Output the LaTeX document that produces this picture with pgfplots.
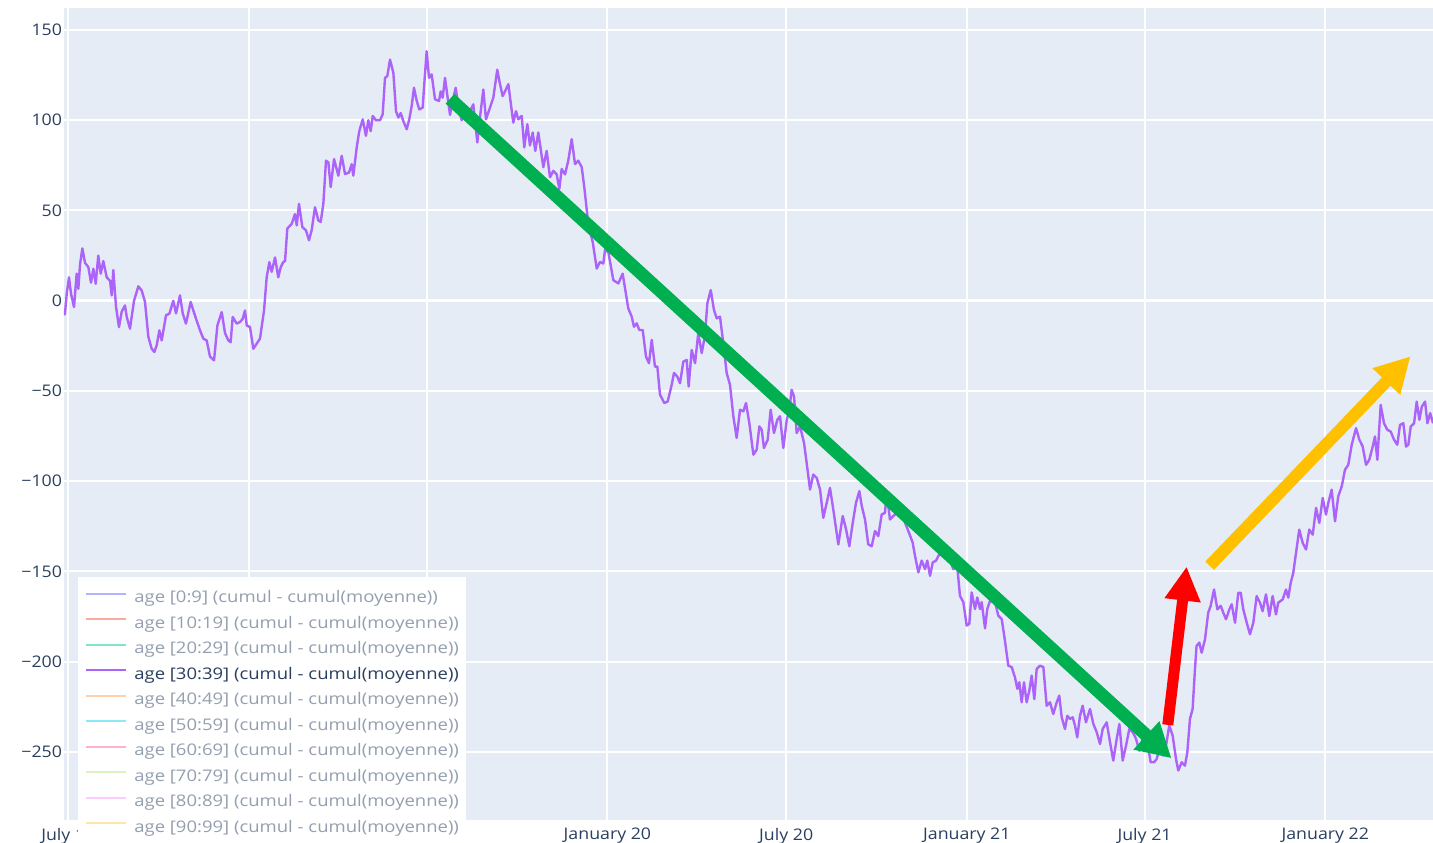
\documentclass[border=0pt]{standalone}
\usepackage{fontspec}
\setmainfont{Open Sans}[FakeStretch=1.11]
\newfontfamily\legfont{Open Sans}[FakeStretch=1.155]
\usepackage{pgfplots}
\pgfplotsset{compat=1.18}
\usetikzlibrary{arrows.meta,calc}
\definecolor{bgc}{HTML}{E5ECF6}
\definecolor{fontc}{HTML}{2A3F5F}
\definecolor{mainc}{HTML}{AB63FA}
\definecolor{greyc}{RGB}{148,159,175}
\definecolor{c0}{RGB}{177,182,252}
\definecolor{c1}{RGB}{247,170,157}
\definecolor{c2}{RGB}{128,229,202}
\definecolor{c4}{RGB}{255,208,172}
\definecolor{c5}{RGB}{140,233,249}
\definecolor{c6}{RGB}{255,178,200}
\definecolor{c7}{RGB}{218,243,191}
\definecolor{c8}{RGB}{255,203,255}
\definecolor{c9}{RGB}{254,229,168}
\definecolor{agreen}{HTML}{00B050}
\definecolor{agold}{HTML}{FFC000}
\definecolor{ared}{HTML}{FF0000}

\pgfplotstableread{
x y
-188.4 -8
-187.4 -7
-185.6 4
-183.3 13
-181.3 4
-178.2 -3.5
-175.5 15
-173.8 6.6
-172.1 20
-169.7 29
-167.0 21
-163.6 18.6
-160.9 10
-158.5 17.7
-156.1 9.4
-153.5 25
-151.0 15
-148.4 22
-144.9 13
-141.5 11
-139.8 3
-138.2 17
-135.4 -3.5
-132.4 -14.6
-129.6 -6
-126.3 -2.6
-124.5 -9
-121.2 -15.5
-117.1 0
-112.7 8
-109.3 5.7
-105.9 -0.7
-102.5 -20
-99.1 -26.6
-96.4 -28.4
-94.0 -24.7
-91.3 -16.4
-88.9 -22
-84.5 -8
-81.1 -7.2
-77.1 0
-74.3 -7
-70.3 3
-67.5 -7
-64.2 -12.7
-59.4 -0.7
-56.7 -5.4
-53.3 -11
-49.9 -16.4
-46.5 -21
-43.1 -22
-39.7 -31
-35.6 -33
-32.2 -13.7
-27.8 -6.3
-24.4 -18
-21.0 -22
-18.7 -23
-16.6 -9
-12.5 -12.7
-9.2 -11.8
-6.4 -10
-4.1 -5.4
-2.3 -13.7
1.0 -14.6
4.4 -26.6
7.8 -23.8
11.2 -21
15.3 -5.4
18.0 13
20.7 21.4
23.1 16
26.5 24
29.8 13
32.3 18.6
34.9 21.4
36.7 22
39.0 40
43.5 42.6
46.8 48
48.6 41.7
50.9 53.7
54.3 40.8
58.0 39
61.1 33.5
63.8 39
67.2 51.8
70.6 44.5
73.0 43.6
75.7 53.7
78.4 77.6
80.8 76.7
83.2 63
86.6 78.5
91.0 69.3
94.4 80.3
97.8 70.2
101.8 71
104.6 75.7
106.2 69.3
109.7 85
112.3 94
115.8 100.5
119.1 91.4
121.5 100
123.9 94
126.0 102.4
129.3 100
133.4 100
136.1 103.3
138.5 123.5
140.8 124.4
143.6 133.6
147.0 126.3
149.7 105
152.1 101.5
154.5 104
157.1 99.6
160.6 95
163.2 100.5
165.7 108
168.0 118
170.8 110.7
173.4 106
176.9 107
178.2 118
180.9 138.2
183.3 123.5
186.0 125.4
189.4 111.6
193.5 110.7
195.2 116
197.2 112.5
199.6 123.5
201.9 114
204.7 103
207.4 110.7
210.5 118
213.1 107
216.6 100
220.0 105
225.0 105
228.4 108.8
232.5 87.7
235.2 101.5
238.6 117
241.3 100.5
245.4 107
248.8 112.5
252.8 128
255.6 120
258.3 113.4
260.7 116
264.1 120
269.1 98.7
271.9 105
274.2 100.5
277.7 102.4
280.3 85
283.4 97.8
286.1 86
288.9 93.2
291.5 83
294.6 93.2
299.7 74
303.1 83
306.5 68.4
309.9 72
313.3 70
316.0 62
318.4 73
321.8 70
325.1 77.6
328.6 89.5
332.0 75.7
335.3 77.6
338.8 74
341.4 63
345.5 42.6
350.0 32.5
354.1 17.8
357.4 21.5
360.8 20.6
362.5 28
365.9 27
371.0 11.4
376.1 9.6
380.5 15
386.2 -4.2
389.7 -8.8
392.0 -14.4
394.8 -12.5
397.4 -16.2
400.9 -16.2
404.3 -31
407.3 -34.6
410.1 -21.7
413.4 -36.5
415.8 -36.5
418.5 -52
422.9 -56.7
426.4 -55.8
430.4 -46.6
432.8 -40
436.1 -42
438.9 -45.7
442.3 -33.7
445.7 -32.8
447.7 -47.5
450.8 -27.3
454.2 -34.6
457.5 -18
461.0 -29
464.4 -19
466.7 -1.5
470.2 5.9
473.5 -5.2
476.3 -9.8
479.6 -8.8
483.0 -23.6
486.4 -40
489.8 -46.6
493.2 -64
496.6 -76
500.0 -60.4
503.4 -61.3
506.1 -56.7
509.5 -67.8
513.6 -85.3
517.0 -82.5
519.7 -69.6
522.1 -71.5
524.4 -81.6
528.2 -77
531.2 -60.4
534.6 -73.3
538.0 -66
540.7 -64
544.1 -81.6
547.6 -66
550.2 -60.4
552.6 -49.4
555.0 -53
557.7 -73.3
561.1 -69.6
565.2 -78.8
567.9 -90
571.3 -104.6
574.6 -96.3
578.1 -98.2
581.5 -104.6
584.8 -120.3
588.3 -112
591.6 -103.7
595.0 -115.7
600.1 -135
604.6 -119.3
608.0 -126.7
611.3 -136
614.8 -123
618.1 -112
621.5 -105.5
624.0 -113.8
627.3 -121.2
630.6 -135
634.1 -136
637.5 -127.6
640.8 -130.4
644.3 -118.4
647.6 -117.5
649.4 -106.4
652.7 -121.2
656.1 -119.3
659.5 -117.5
661.2 -119
664.6 -117.3
668.0 -122.9
673.1 -130
675.8 -134
678.2 -141.3
681.6 -150.5
685.0 -144
688.4 -148.7
690.7 -144
693.5 -152.4
696.2 -145
699.6 -144
703.0 -140.4
706.4 -141.3
712.1 -141.3
717.2 -148.7
721.3 -147.8
724.0 -163.5
727.4 -167
730.8 -180
733.5 -179
735.9 -161.6
739.3 -170.8
741.6 -164.4
744.4 -170.8
746.1 -167
749.5 -181.5
751.8 -170.8
754.6 -166.2
759.7 -167
763.0 -174.5
766.5 -176.4
769.8 -188.4
773.2 -202.2
776.7 -203
780.0 -208.7
782.4 -215
784.4 -211.4
786.8 -222.5
789.2 -211.4
791.9 -222.5
794.6 -216
797.0 -207.7
799.7 -220.7
802.1 -204
805.5 -202.2
808.9 -203
812.3 -224.4
815.7 -222.5
819.0 -229
822.5 -222.5
825.1 -218.8
827.6 -230.8
830.9 -237.3
833.3 -230
836.0 -231.7
838.8 -230.8
841.1 -235.4
843.4 -241.9
846.2 -230
848.9 -224.4
852.3 -233.6
856.4 -226.2
859.8 -234.5
863.2 -239
866.6 -245.6
869.3 -237.3
873.4 -233.6
876.8 -244.6
880.1 -254.8
883.6 -242.8
886.3 -234.5
889.7 -254.8
893.1 -246.5
896.4 -237.3
899.9 -239
903.3 -242.8
906.6 -249.3
910.7 -241
914.2 -242.8
918.2 -255.7
921.6 -255.7
924.3 -253.9
927.7 -247.4
931.1 -252
933.8 -246.5
937.1 -235.4
940.6 -241
944.0 -253.9
946.3 -260.3
949.8 -255.7
953.1 -257.6
955.5 -250.2
958.2 -231.7
960.9 -226.2
963.3 -204
964.9 -191.3
967.7 -189.4
970.1 -195
973.5 -187.6
976.8 -172.8
979.3 -169
982.7 -160
986.1 -171
989.5 -169
992.1 -172.8
994.9 -176.5
998.3 -171
1000.7 -168.2
1004.1 -178.4
1007.4 -161.8
1009.9 -161.8
1012.5 -171
1016.0 -178.4
1019.3 -184.8
1022.7 -178.4
1026.1 -163.6
1029.5 -167.3
1032.2 -172
1035.6 -162.7
1039.0 -174.7
1042.4 -163.6
1045.8 -173.8
1048.1 -167.3
1052.6 -165.5
1056.0 -160
1058.3 -164.5
1060.8 -156.3
1063.4 -150.7
1066.2 -139.7
1069.5 -126.8
1073.0 -134.2
1076.4 -137.8
1079.7 -126.8
1083.2 -129.6
1086.6 -114.8
1089.9 -123.1
1093.4 -109.3
1096.7 -118.5
1099.1 -112
1102.5 -104.7
1105.9 -122.2
1109.2 -108.4
1112.7 -102.9
1116.1 -93.6
1119.4 -90.9
1122.9 -79.8
1127.3 -70.6
1130.7 -77
1134.1 -80.8
1137.5 -90.9
1140.8 -88.1
1144.3 -80.8
1146.6 -75.2
1149.0 -88.1
1152.4 -57.7
1155.8 -67.9
1159.2 -71.5
1162.6 -72.5
1166.0 -77
1169.3 -79.8
1172.1 -68.8
1175.5 -67.9
1178.2 -80.8
1180.6 -79.8
1183.0 -69.7
1186.4 -67.9
1189.1 -55.9
1191.8 -66
1194.3 -58.7
1197.6 -55.9
1200.0 -67.9
1202.8 -62.3
1205.8 -67.9
}\maindata

\begin{document}
\begin{tikzpicture}
\begin{axis}[name=ax, scale only axis, width=684.5pt, height=406pt,
  xmin=-188.4, xmax=1205.7, ymin=-287.7, ymax=162.2,
  axis background/.style={fill=bgc},
  axis line style={draw=none},
  grid=major, grid style={white, line width=1pt},
  major tick length=0pt,
  xtick={-184,0,181,365,547,731,912,1096},
  xticklabels={July 18,January 19,July 19,January 20,July 20,January 21,July 21,January 22},
  ytick={-250,-200,-150,-100,-50,0,50,100,150},
  yticklabels={−250,−200,−150,−100,−50,0,50,100,150},
  tick label style={font=\fontsize{8pt}{9.6pt}\selectfont, text=fontc},
  xticklabel style={anchor=north, inner sep=0pt, yshift=-4pt},
  yticklabel style={anchor=east, inner sep=0pt, xshift=-0.8pt},
  legend style={at={(0.0102,0.2993)}, anchor=north west, fill=white, draw=none,
    inner xsep=3.5pt, inner ysep=6.8pt, row sep=4.75pt,
    font=\legfont\fontsize{8pt}{9.6pt}\selectfont,
    nodes={inner sep=0pt, text height=6pt, text depth=2pt},
    /tikz/every odd column/.append style={column sep=3.5pt}},
  legend cell align=left,
  legend image code/.code={\draw[#1, line width=1pt] (0pt,2.6pt) -- (20pt,2.6pt);},
]
\draw[white, line width=1.4pt] (axis cs:-188.4,0) -- (axis cs:1205.7,0);
\addlegendimage{c0}
\addlegendentry[text=greyc]{age [0:9] (cumul - cumul(moyenne))}
\addlegendimage{c1}
\addlegendentry[text=greyc]{age [10:19] (cumul - cumul(moyenne))}
\addlegendimage{c2}
\addlegendentry[text=greyc]{age [20:29] (cumul - cumul(moyenne))}
\addplot[mainc, line width=1.2pt, line join=round] table[x=x, y=y] {\maindata};
\addlegendentry[text=fontc]{age [30:39] (cumul - cumul(moyenne))}
\addlegendimage{c4}
\addlegendentry[text=greyc]{age [40:49] (cumul - cumul(moyenne))}
\addlegendimage{c5}
\addlegendentry[text=greyc]{age [50:59] (cumul - cumul(moyenne))}
\addlegendimage{c6}
\addlegendentry[text=greyc]{age [60:69] (cumul - cumul(moyenne))}
\addlegendimage{c7}
\addlegendentry[text=greyc]{age [70:79] (cumul - cumul(moyenne))}
\addlegendimage{c8}
\addlegendentry[text=greyc]{age [80:89] (cumul - cumul(moyenne))}
\addlegendimage{c9}
\addlegendentry[text=greyc]{age [90:99] (cumul - cumul(moyenne))}
\draw[agreen, line width=6.5pt, -{Triangle[length=17pt,width=18pt]}] (axis cs:204.7,111.9) -- (axis cs:939.4,-253.5);
\draw[ared, line width=5.5pt, -{Triangle[length=17pt,width=17pt]}] (axis cs:935.6,-235.0) -- (axis cs:954.8,-147.3);
\draw[agold, line width=6pt, -{Triangle[length=17.5pt,width=18pt]}] (axis cs:978.2,-146.8) -- (axis cs:1182.8,-30.8);
\end{axis}
\pgfresetboundingbox
\path[use as bounding box] ($(ax.south west)+(-32pt,-11.5pt)$) rectangle ($(ax.north east)+(0pt,4pt)$);
\end{tikzpicture}
\end{document}
